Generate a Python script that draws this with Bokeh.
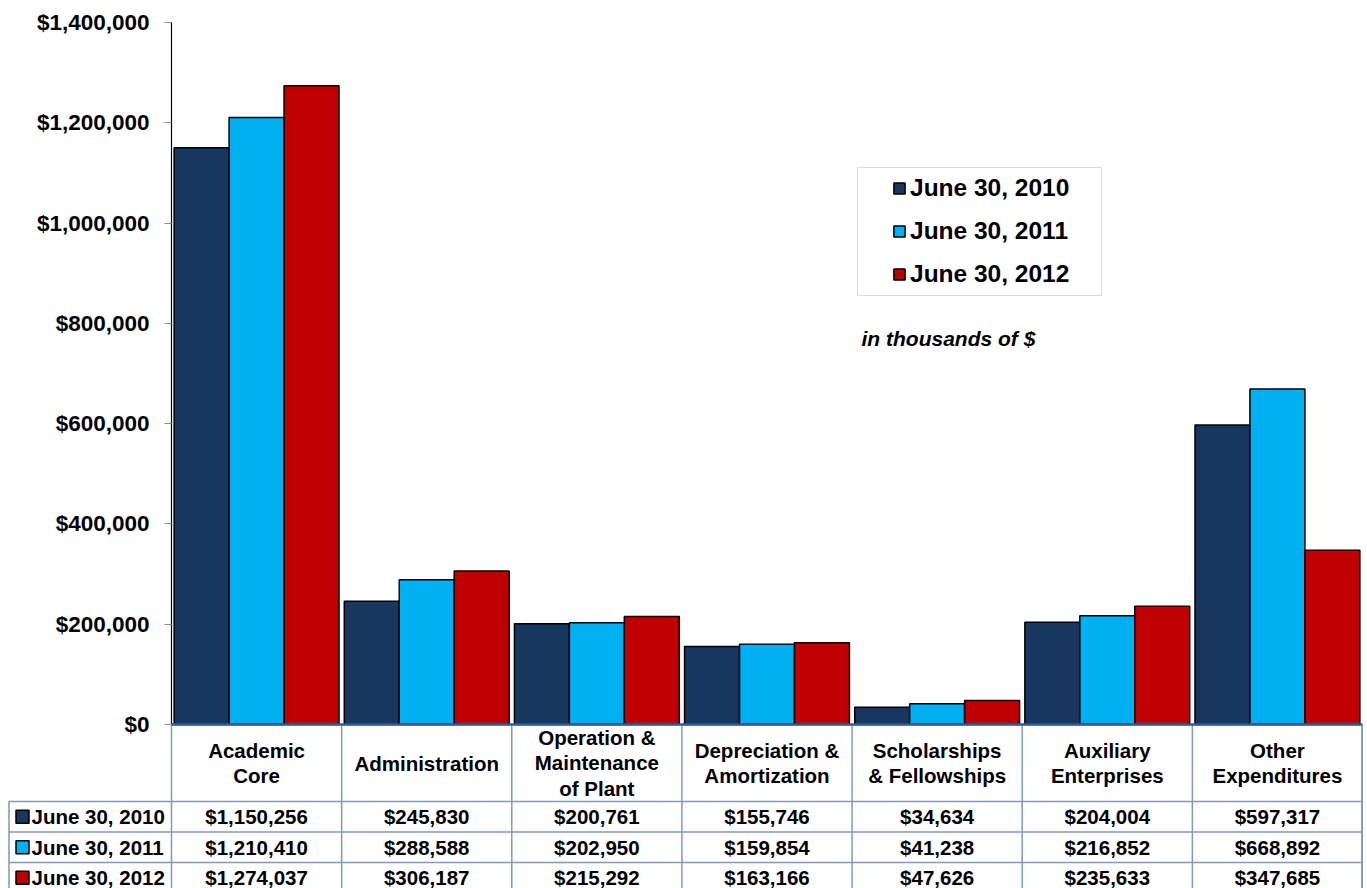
import numpy as np
from bokeh.plotting import figure
from bokeh.models import (Range1d, FixedTicker, NumeralTickFormatter, Legend, LegendItem,
                          Label, BoxAnnotation, ColumnDataSource, LinearAxis)
from bokeh.core.properties import value
from bokeh.embed import file_html
from bokeh.resources import INLINE

# ---------------- data ----------------
categories = ["Academic\nCore", "Administration", "Operation &\nMaintenance\nof Plant",
              "Depreciation &\nAmortization", "Scholarships\n& Fellowships",
              "Auxiliary\nEnterprises", "Other\nExpenditures"]
series = ["June 30, 2010", "June 30, 2011", "June 30, 2012"]
v2010 = [1150256, 245830, 200761, 155746, 34634, 204004, 597317]
v2011 = [1210410, 288588, 202950, 159854, 41238, 216852, 668892]
v2012 = [1274037, 306187, 215292, 163166, 47626, 235633, 347685]
yticks = [0, 200000, 400000, 600000, 800000, 1000000, 1200000, 1400000]
note = "in thousands of $"

colors = ["#17375E", "#00B0F0", "#C00000"]
FONT = "Liberation Sans"

# ---------------- layout constants (pixels) ----------------
FIG_W = 1364
FIG_H = 888
FRAME_L = 8          # left edge of table
AXIS_X = 171         # y axis / first category boundary
FRAME_R = 1362
TOP = 22             # pixel row of the top tick
FRAME_T = 4          # frame top (extra room for the top tick label)
ZERO_Y = 724
HEADER_B = 801
ROW_H = 30.5
NCAT = len(categories)
CATW = (FRAME_R - AXIS_X) / NCAT
YMAX = 1400000
PXV = YMAX / (ZERO_Y - TOP)
XL = -(AXIS_X - FRAME_L) / CATW
YB = -(FIG_H - ZERO_Y) * PXV
YT = YMAX + (TOP - FRAME_T) * PXV


def px_x(page_x):
    return (page_x - AXIS_X) / CATW


def px_y(page_y):
    return (ZERO_Y - page_y) * PXV


p = figure(width=FIG_W, height=FIG_H,
           x_range=Range1d(XL, NCAT), y_range=Range1d(YB, YT),
           output_backend="svg", toolbar_location=None,
           min_border_left=FRAME_L, min_border_right=FIG_W - FRAME_R,
           min_border_top=FRAME_T, min_border_bottom=0,
           x_axis_location=None, y_axis_location=None)
p.xgrid.visible = False
p.ygrid.visible = False
p.outline_line_color = None
p.background_fill_color = "white"
p.border_fill_color = "white"

ax = LinearAxis(fixed_location=0)
ax.ticker = FixedTicker(ticks=yticks)
ax.formatter = NumeralTickFormatter(format="$0,0")
ax.major_label_text_font = FONT
ax.major_label_text_font_style = "bold"
ax.major_label_text_font_size = "22.5px"
ax.major_label_text_color = "black"
ax.major_tick_out = 7
ax.major_tick_in = 0
ax.major_tick_line_color = "#8c8c8c"
ax.minor_tick_line_color = None
ax.axis_line_color = None
ax.major_label_standoff = 15
p.add_layout(ax, "left")

# y axis line (only over the chart part)
p.segment(x0=[0], y0=[0], x1=[0], y1=[YMAX], line_color="black", line_width=1.2)

BW = 0.323
offsets = [-BW, 0.0, BW]
renderers = []
for vals, col, off in zip([v2010, v2011, v2012], colors, offsets):
    src = ColumnDataSource(dict(x=np.arange(NCAT) + 0.5 + off, top=vals))
    r = p.vbar(x="x", top="top", bottom=0, width=BW, source=src,
               fill_color=col, line_color="black", line_width=1.5)
    renderers.append(r)

# ---------------- table ----------------
GRID = "#7F9AC2"
OUTER = "#3C64A0"
hb = px_y(HEADER_B)
row_lines = [hb, px_y(HEADER_B + ROW_H), px_y(HEADER_B + 2 * ROW_H)]
row_mid = [px_y(HEADER_B + (k + 0.5) * ROW_H) for k in range(3)]

# vertical lines
vx = list(range(NCAT + 1))
p.segment(x0=vx, y0=[YB] * len(vx), x1=vx, y1=[0] * len(vx), line_color=GRID, line_width=1.5)
p.segment(x0=[XL], y0=[YB], x1=[XL], y1=[hb], line_color=OUTER, line_width=2)
p.segment(x0=[NCAT], y0=[YB], x1=[NCAT], y1=[0], line_color=OUTER, line_width=2)
# horizontal lines
p.segment(x0=[XL] * 3, y0=row_lines, x1=[NCAT] * 3, y1=row_lines, line_color=GRID, line_width=1.5)
p.segment(x0=[0], y0=[0], x1=[NCAT], y1=[0], line_color="#2F5D9A", line_width=2.5)

p.text(x=np.arange(NCAT) + 0.5, y=[hb / 2] * NCAT, text=categories,
       text_align="center", text_baseline="middle", text_font=value(FONT),
       text_font_style="bold", text_font_size="20.5px", text_color="black",
       text_line_height=1.13)

p.scatter(x=[px_x(22)] * 3, y=row_mid, marker="square", size=13,
          fill_color=colors, line_color="black", line_width=1.5)
p.text(x=[XL] * 3, y=row_mid, text=series, x_offset=23, text_align="left",
       text_baseline="middle", text_font=value(FONT), text_font_style="bold",
       text_font_size="20.5px", text_color="black")

for vals, yy in zip([v2010, v2011, v2012], row_mid):
    p.text(x=np.arange(NCAT) + 0.5, y=[yy] * NCAT, text=[f"${v:,}" for v in vals],
           text_align="center", text_baseline="middle", text_font=value(FONT),
           text_font_style="bold", text_font_size="20.5px", text_color="black")

# ---------------- legend & note ----------------
legend = Legend(items=[LegendItem(label=s, renderers=[r]) for s, r in zip(series, renderers)],
                location=(892 - FRAME_L, FIG_H - 289), orientation="vertical",
                border_line_color=None, background_fill_alpha=0,
                padding=0, margin=0, spacing=13,
                glyph_width=14, glyph_height=14, label_height=30, label_standoff=4,
                label_text_font=FONT, label_text_font_style="bold",
                label_text_font_size="24.5px", label_text_color="black")
p.add_layout(legend)
p.add_layout(BoxAnnotation(left=px_x(857), right=px_x(1101), top=px_y(167), bottom=px_y(295),
                           fill_alpha=0, line_color="#8c8c8c", line_width=1))

p.add_layout(Label(x=px_x(861), y=px_y(338), text=note, text_font=FONT,
                   text_font_style="bold italic", text_font_size="21px",
                   text_color="black", text_baseline="middle"))

open("out.html", "w").write(file_html(p, INLINE))
